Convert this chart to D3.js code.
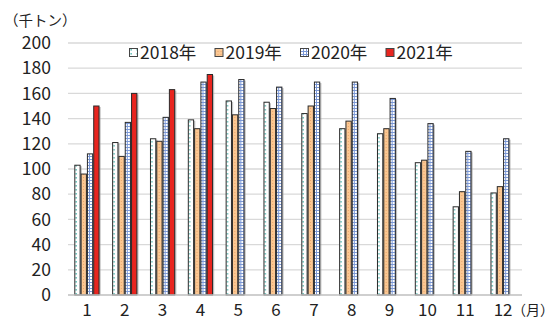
<!DOCTYPE html>
<html>
<head>
<meta charset="utf-8">
<script src="https://cdn.jsdelivr.net/npm/d3@7"></script>
<style>
  html, body { margin: 0; padding: 0; background: #fff; }
  svg { display: block; }
  text { font-family: "Noto Sans CJK JP", "Noto Sans", sans-serif; fill: #222; }
</style>
</head>
<body>
<svg id="chart" width="556" height="320"></svg>
<script>
// Monthly volume (thousand tons) by year
const months = ["1","2","3","4","5","6","7","8","9","10","11","12"];
const years = ["2018年","2019年","2020年","2021年"];
const v2018 = [103, 121, 124, 139, 154, 153, 144, 132, 128, 105, 70, 81];
const v2019 = [96, 110, 122, 132, 143, 148, 150, 138, 132, 107, 82, 86];
const v2020 = [112, 137, 141, 169, 171, 165, 169, 169, 156, 136, 114, 124];
const v2021 = [150, 160, 163, 175, null, null, null, null, null, null, null, null];
const yTicks = [0, 20, 40, 60, 80, 100, 120, 140, 160, 180, 200];

const seriesValues = [v2018, v2019, v2020, v2021];

const svg = d3.select("#chart");
const plotLeft = 68, plotRight = 522, plotTop = 43, plotBottom = 295;

// Fill patterns for each year
const defs = svg.append("defs");

const p18 = defs.append("pattern").attr("id", "pat2018")
  .attr("patternUnits", "userSpaceOnUse").attr("width", 6).attr("height", 4);
p18.append("rect").attr("width", 6).attr("height", 4).attr("fill", "#ffffff");
p18.append("rect").attr("x", 1.5).attr("y", 1).attr("width", 1.3).attr("height", 1.6).attr("fill", "#4fb8b0");

const p19 = defs.append("pattern").attr("id", "pat2019")
  .attr("patternUnits", "userSpaceOnUse").attr("width", 3).attr("height", 3);
p19.append("rect").attr("width", 3).attr("height", 3).attr("fill", "#fbc792");
p19.append("rect").attr("x", 0).attr("y", 0).attr("width", 1).attr("height", 1).attr("fill", "#e9a56b");

const p20 = defs.append("pattern").attr("id", "pat2020")
  .attr("patternUnits", "userSpaceOnUse").attr("width", 3).attr("height", 3);
p20.append("rect").attr("width", 3).attr("height", 3).attr("fill", "#7b98d6");
p20.append("rect").attr("x", 1).attr("y", 1).attr("width", 2).attr("height", 2).attr("fill", "#ffffff");

const fills = ["url(#pat2018)", "url(#pat2019)", "url(#pat2020)", "#e8251f"];

const y = d3.scaleLinear().domain([0, 200]).range([plotBottom, plotTop]);
const x0 = d3.scaleBand().domain(months).range([plotLeft, plotRight]).padding(0);
const x1 = d3.scaleBand().domain(years).range([0, x0.bandwidth()])
  .paddingInner(0).paddingOuter(1);

// Gridlines
svg.append("g")
  .selectAll("line")
  .data(yTicks.filter(d => d > 0))
  .join("line")
  .attr("x1", plotLeft).attr("x2", plotRight)
  .attr("y1", d => y(d)).attr("y2", d => y(d))
  .attr("stroke", "#d9d9d9").attr("stroke-width", 1.3);

// Y axis labels
const yAxis = d3.axisLeft(y).tickValues(yTicks).tickSize(0).tickPadding(0);
const gy = svg.append("g").attr("transform", `translate(${51},0)`).call(yAxis);
gy.select(".domain").remove();
gy.selectAll("text").attr("font-size", 17.5).attr("fill", "#222")
  .attr("font-family", "\"Noto Sans CJK JP\", sans-serif");

// Bars
const groups = svg.append("g").selectAll("g")
  .data(months)
  .join("g")
  .attr("transform", d => `translate(${x0(d)},0)`);

groups.each(function(m, mi) {
  const g = d3.select(this);
  const rows = years.map((yr, si) => ({ yr, si, v: seriesValues[si][mi] }))
    .filter(d => d.v != null);
  // soft shadow
  g.selectAll("rect.shadow").data(rows).join("rect").attr("class", "shadow")
    .attr("x", d => x1(d.yr) + 1.2)
    .attr("y", d => y(d.v) + 1)
    .attr("width", x1.bandwidth())
    .attr("height", d => y(0) - y(d.v) - 1)
    .attr("fill", "#9a9a9a").attr("opacity", 0.6);
  g.selectAll("rect.bar").data(rows).join("rect").attr("class", "bar")
    .attr("x", d => x1(d.yr) + 0.5)
    .attr("y", d => y(d.v))
    .attr("width", x1.bandwidth() - 1)
    .attr("height", d => y(0) - y(d.v))
    .attr("fill", d => fills[d.si])
    .attr("stroke", "#2a2a2a").attr("stroke-width", 1);
});

// Baseline
svg.append("line")
  .attr("x1", plotLeft).attr("x2", plotRight)
  .attr("y1", y(0)).attr("y2", y(0))
  .attr("stroke", "#bfbfbf").attr("stroke-width", 1.5);

// X axis labels
const xAxis = d3.axisBottom(x0).tickSize(0).tickPadding(0);
const gx = svg.append("g").attr("transform", `translate(0,${304})`).call(xAxis);
gx.select(".domain").remove();
gx.selectAll("text").attr("font-size", 17).attr("fill", "#222")
  .attr("font-family", "\"Noto Sans CJK JP\", sans-serif")
  .attr("dy", "0.71em");

// Unit labels
svg.append("text").attr("x", 4).attr("y", 26).attr("font-size", 14.5)
  .text("（千トン）");
svg.append("text").attr("x", 512).attr("y", 315).attr("font-size", 14)
  .text("（月）");

// Legend
const legend = svg.append("g").attr("transform", "translate(129,48)");
const item = legend.selectAll("g").data(years).join("g")
  .attr("transform", (d, i) => `translate(${i * 85.5},0)`);
item.append("rect").attr("x", 0.5).attr("y", 0.5).attr("width", 8).attr("height", 8)
  .attr("fill", (d, i) => fills[i]).attr("stroke", "#444").attr("stroke-width", 1);
item.append("text").attr("x", 11).attr("y", 11).attr("font-size", 17.5)
  .text(d => d);
</script>
</body>
</html>
